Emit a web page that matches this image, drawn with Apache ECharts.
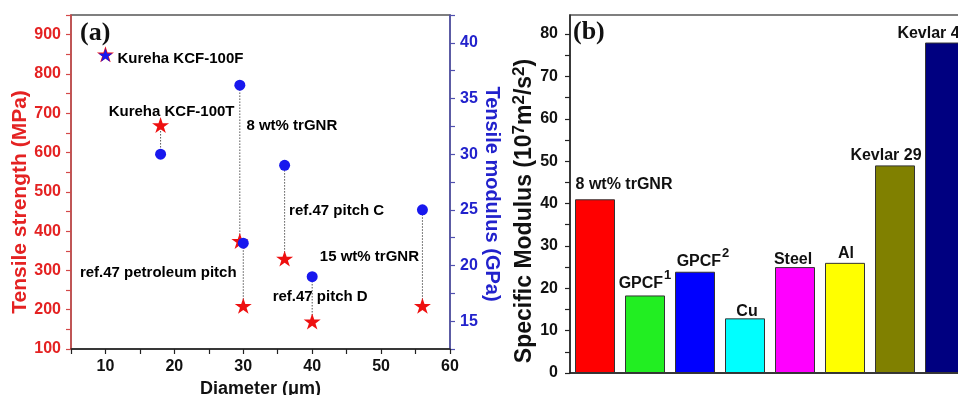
<!DOCTYPE html>
<html>
<head>
<meta charset="utf-8">
<script src="https://cdn.jsdelivr.net/npm/echarts@6/dist/echarts.min.js"></script>
<style>
  html, body { margin: 0; padding: 0; background: #fff; }
  #chart { width: 958px; height: 395px; }
</style>
</head>
<body>
<div id="chart"></div>
<script>
// (a) carbon fibres: strength / modulus against diameter
var samples = ['Kureha KCF-100F', 'Kureha KCF-100T', '8 wt% trGNR', 'ref.47 petroleum pitch', 'ref.47 pitch C', 'ref.47 pitch D', '15 wt% trGNR'];
var diameters = [10, 18, 29.5, 30, 36, 40, 56];
var strength = [850, 670, 375, 210, 330, 170, 210];
var modulus = [38.9, 30, 36.2, 22, 29, 19, 25];

var diameterTicks = [10, 20, 30, 40, 50, 60];
var strengthTicks = [100, 200, 300, 400, 500, 600, 700, 800, 900];
var modulusTicks = [15, 20, 25, 30, 35, 40];

// (b) specific modulus of materials
var materials = ['8 wt% trGNR', 'GPCF', 'GPCF', 'Cu', 'Steel', 'Al', 'Kevlar 29', 'Kevlar 49'];
var materialSup = ['', '1', '2', '', '', '', '', ''];
var specificModulus = [41, 18.3, 23.9, 12.9, 25, 26, 49, 78];
var specificTicks = [0, 10, 20, 30, 40, 50, 60, 70, 80];

var barColors = ['#ff0000', '#22ee22', '#0000ff', '#00ffff', '#ff00ff', '#ffff00', '#808000', '#000080'];

// axis ranges
var xMin = 5, xMax = 60;
var sMin = 100, sMax = 950;
var mMin = 12.5, mMax = 42.5;
var bMax = 84.5;

var font = 'Arial, "Liberation Sans", sans-serif';
var starPath = 'path://M50,0 L61.8,35.1 L98.9,35.1 L68.8,56.8 L80.3,91.9 L50,70.2 L19.7,91.9 L31.2,56.8 L1.1,35.1 L38.2,35.1 Z';

// ticks at the labelled values plus the halves in between
function withMinor(ticks, min, max) {
  var step = (ticks[1] - ticks[0]) / 2;
  var out = [];
  for (var v = ticks[0] - step * Math.floor((ticks[0] - min) / step); v <= max + 1e-9; v += step) {
    out.push(+v.toFixed(4));
  }
  return out;
}

// map a modulus value onto the strength axis (both axes share the plot height)
function modulusToStrength(m) {
  return sMin + (m - mMin) * (sMax - sMin) / (mMax - mMin);
}

// where each sample label sits, relative to its blue marker
var labelOffsets = [[75, 4], [11, -42], [52, 41], [-85, 30], [52, 46], [8, 20], [-53, 47]];
// bar label nudges
var barLabelOffsets = [[29, -3], [0, 0], [8, 2], [2, 5], [-2, 5], [1, 3], [-9, 2], [-12, 3]];

var tickLabel = { fontFamily: font, fontWeight: 'bold', fontSize: 16 };

var chart = echarts.init(document.getElementById('chart'));

var option = {
  animation: false,
  backgroundColor: '#fff',
  title: [
    { text: '(a)', left: 80, top: 20, padding: 0,
      textStyle: { fontFamily: '"Times New Roman", "Liberation Serif", serif', fontWeight: 'bold', fontSize: 26, color: '#111' } },
    { text: '(b)', left: 573, top: 19, padding: 0,
      textStyle: { fontFamily: '"Times New Roman", "Liberation Serif", serif', fontWeight: 'bold', fontSize: 26, color: '#111' } }
  ],
  grid: [
    { left: 71, top: 15, width: 379, height: 334, show: true, borderColor: '#555', borderWidth: 1.5, outerBoundsMode: 'none' },
    { left: 570, top: 15, width: 400, height: 358, show: true, borderColor: '#555', borderWidth: 1.5, outerBoundsMode: 'none' }
  ],
  xAxis: [
    {
      gridIndex: 0, type: 'value', min: xMin, max: xMax,
      name: 'Diameter (μm)', nameLocation: 'middle', nameGap: 29,
      nameTextStyle: { fontFamily: font, fontWeight: 'bold', fontSize: 18, color: '#111' },
      axisLine: { lineStyle: { color: '#222', width: 1.5 } },
      axisTick: { show: true, length: 5, lineStyle: { color: '#222', width: 1.2 }, customValues: withMinor(diameterTicks, xMin, xMax) },
      axisLabel: Object.assign({ color: '#111', margin: 10, customValues: diameterTicks }, tickLabel),
      splitLine: { show: false }
    },
    {
      gridIndex: 1, type: 'category', data: materials,
      axisLine: { lineStyle: { color: '#222', width: 1.5 } },
      axisTick: { show: false },
      axisLabel: { show: false },
      splitLine: { show: false }
    }
  ],
  yAxis: [
    {
      gridIndex: 0, type: 'value', min: sMin, max: sMax, position: 'left',
      name: 'Tensile strength (MPa)', nameLocation: 'middle', nameGap: 40, nameRotate: 90,
      nameTextStyle: { fontFamily: font, fontWeight: 'bold', fontSize: 21, color: '#e42222', padding: [0, 40, 0, 0] },
      axisLine: { show: true, lineStyle: { color: '#d44848', width: 1.5 } },
      axisTick: { show: true, length: 5, lineStyle: { color: '#d44848', width: 1.2 }, customValues: withMinor(strengthTicks, sMin, sMax) },
      axisLabel: Object.assign({ color: '#e42222', margin: 10, customValues: strengthTicks }, tickLabel),
      splitLine: { show: false }
    },
    {
      gridIndex: 0, type: 'value', min: mMin, max: mMax, position: 'right',
      name: 'Tensile modulus (GPa)', nameLocation: 'middle', nameGap: 29, nameRotate: -90,
      nameTextStyle: { fontFamily: font, fontWeight: 'bold', fontSize: 20, color: '#2222cc', padding: [0, 0, 0, 24] },
      axisLine: { show: true, lineStyle: { color: '#5050b0', width: 1.5 } },
      axisTick: { show: true, length: 5, lineStyle: { color: '#5050b0', width: 1.2 }, customValues: withMinor(modulusTicks, mMin, mMax) },
      axisLabel: Object.assign({ color: '#2222cc', margin: 10, customValues: modulusTicks }, tickLabel),
      splitLine: { show: false }
    },
    {
      gridIndex: 1, type: 'value', min: 0, max: bMax,
      name: 'Specific Modulus (10{s|7}m{s|2}/s{s|2})', nameLocation: 'middle', nameGap: 29, nameRotate: 90,
      nameTextStyle: {
        fontFamily: font, fontWeight: 'bold', fontSize: 23, color: '#111', padding: [0, 34, 0, 0],
        verticalAlign: 'bottom',
        rich: { s: { fontFamily: font, fontWeight: 'bold', fontSize: 17, color: '#111', verticalAlign: 'top', padding: [0, 0, 11, 0] } }
      },
      axisLine: { show: true, lineStyle: { color: '#222', width: 1.5 } },
      axisTick: { show: true, length: 5, lineStyle: { color: '#222', width: 1.2 }, customValues: withMinor(specificTicks, 0, bMax) },
      axisLabel: Object.assign({ color: '#111', margin: 12, customValues: specificTicks }, tickLabel),
      splitLine: { show: false }
    }
  ],
  series: [
    {
      // dotted drop lines between each strength / modulus pair
      type: 'custom', xAxisIndex: 0, yAxisIndex: 0, z: 1,
      data: diameters.map(function (d, i) { return [d, strength[i], modulus[i]]; }),
      encode: { x: 0, y: 1 },
      renderItem: function (params, api) {
        var p1 = api.coord([api.value(0), api.value(1)]);
        var p2 = api.coord([api.value(0), modulusToStrength(api.value(2))]);
        return {
          type: 'line',
          shape: { x1: p1[0], y1: p1[1], x2: p2[0], y2: p2[1] },
          style: { stroke: '#555', lineWidth: 1, lineDash: [1.5, 1.5] }
        };
      }
    },
    {
      name: 'Tensile strength', type: 'scatter', xAxisIndex: 0, yAxisIndex: 0, z: 2,
      symbol: starPath, symbolSize: 17, symbolKeepAspect: true,
      itemStyle: { color: '#ee1010', opacity: 1 },
      data: diameters.map(function (d, i) { return [d, strength[i]]; })
    },
    {
      name: 'Tensile modulus', type: 'scatter', xAxisIndex: 0, yAxisIndex: 1, z: 3,
      itemStyle: { color: '#1818ee', opacity: 1 },
      data: diameters.map(function (d, i) {
        return {
          value: [d, modulus[i]],
          symbol: i === 0 ? starPath : 'circle',
          symbolSize: i === 0 ? 14 : 11,
          symbolKeepAspect: true,
          label: {
            show: true, formatter: samples[i], position: 'inside', align: 'center', verticalAlign: 'middle',
            offset: labelOffsets[i], fontFamily: font, fontWeight: 'bold', fontSize: 15,
            color: '#000', textBorderWidth: 0, opacity: 1
          }
        };
      })
    },
    {
      type: 'bar', xAxisIndex: 1, yAxisIndex: 2, barWidth: 40,
      data: specificModulus.map(function (v, i) {
        return {
          value: v,
          itemStyle: { color: barColors[i], borderColor: '#333', borderWidth: 1 },
          label: {
            show: true, position: 'top', distance: 4, offset: barLabelOffsets[i],
            formatter: '{t|' + materials[i] + '}' + (materialSup[i] ? '{s|' + materialSup[i] + '}' : ''),
            rich: {
              t: { fontFamily: font, fontWeight: 'bold', fontSize: 16, color: '#111', verticalAlign: 'bottom' },
              s: { fontFamily: font, fontWeight: 'bold', fontSize: 13, color: '#111', verticalAlign: 'top', padding: [0, 0, 10, 1] }
            }
          }
        };
      })
    }
  ]
};

chart.setOption(option);
</script>
</body>
</html>
